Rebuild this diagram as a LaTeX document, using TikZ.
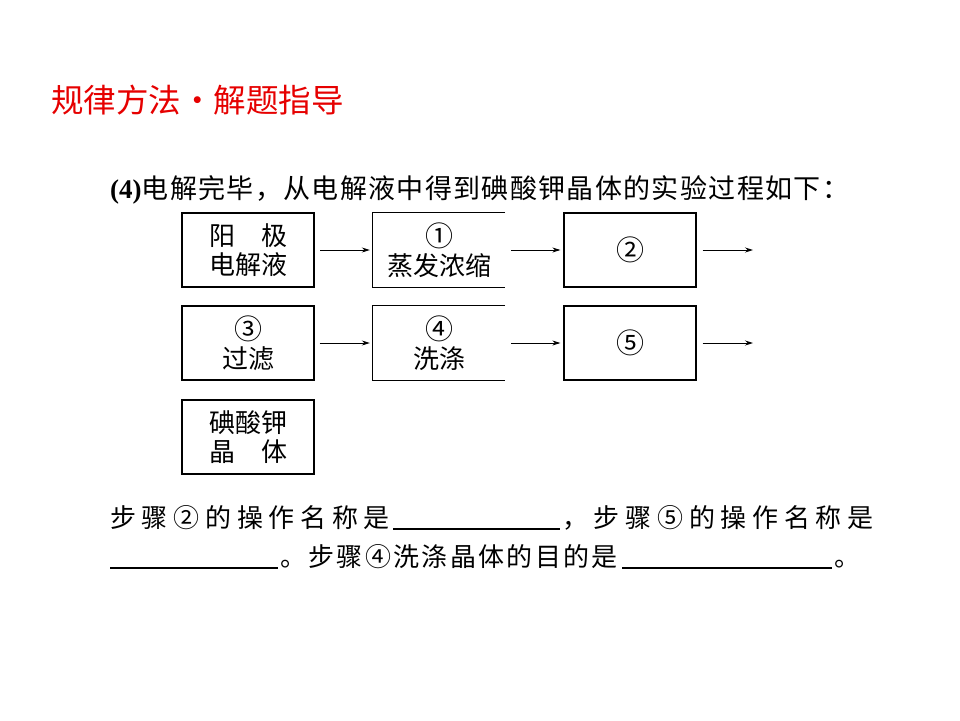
\documentclass[tikz,border=0pt]{standalone}
\usepackage{fontspec}
\setmainfont{Liberation Serif}
\newfontfamily\cjk{Noto Sans CJK SC}
\newfontfamily\cjkintro[LetterSpace=5]{Noto Sans CJK SC}
\newfontfamily\cjkwide[LetterSpace=22]{Noto Sans CJK SC}
\newfontfamily\cjkmid[LetterSpace=9]{Noto Sans CJK SC}
\usetikzlibrary{arrows.meta}
\definecolor{titlered}{RGB}{230,0,0}
\newcommand{\cnum}[1]{{\fontsize{28}{29}\selectfont #1}}
\begin{document}
\begin{tikzpicture}[x=1pt,y=-1pt,
  stepbox/.style={minimum width=132pt,minimum height=74pt,inner sep=0pt,
    align=center,font=\cjk\fontsize{26}{29}\selectfont},
  framed/.style={draw,line width=1.2pt},
  flow/.style={line width=0.9pt,-{Stealth[length=8pt,width=5pt]}},
  blank/.style={line width=1.4pt},
  body/.style={inner sep=0pt,anchor=base west}]
\useasboundingbox (0,0) rectangle (960,720);
\fill[white] (0,0) rectangle (960,720);

\node[inner sep=0pt,anchor=west,text=titlered,font=\cjk\fontsize{32.5}{32.5}\selectfont] (title) at (51,100) {规律方法・解题指导};

\node[body,font=\fontsize{27}{27}\selectfont] (intro) at (110,198)
  {\textbf{(4)}\cjkintro 电解完毕，从电解液中得到碘酸钾晶体的实验过程如下：};

% row 1
\node[stepbox,framed,line width=2pt] (b1) at (248,250) {阳\hspace{1em}极\\电解液};
\node[stepbox] (b2) at (439,250) {\cnum{①}\\蒸发浓缩};
\draw[line width=1.2pt] (b2.north east) -- (b2.north west) -- (b2.south west) -- (b2.south east);
\node[stepbox,framed] (b3) at (630,250) {\cnum{②}};
\coordinate (e1) at (753,250);
\draw[flow] ([xshift=5pt]b1.east) -- ([xshift=-3pt]b2.west);
\draw[flow] ([xshift=6pt]b2.east) -- ([xshift=-3pt]b3.west);
\draw[flow] ([xshift=6pt]b3.east) -- (e1);

% row 2
\node[stepbox,framed] (c1) at (248,343) {\cnum{③}\\过滤};
\node[stepbox] (c2) at (439,343) {\cnum{④}\\洗涤};
\draw[line width=1.2pt] (c2.north east) -- (c2.north west) -- (c2.south west) -- (c2.south east);
\node[stepbox,framed] (c3) at (630,343) {\cnum{⑤}};
\coordinate (e2) at (753,343);
\draw[flow] ([xshift=5pt]c1.east) -- ([xshift=-3pt]c2.west);
\draw[flow] ([xshift=6pt]c2.east) -- ([xshift=-3pt]c3.west);
\draw[flow] ([xshift=6pt]c3.east) -- (e2);

% row 3
\node[stepbox,framed] (d1) at (248,437) {碘酸钾\\晶\hspace{1em}体};

% question lines
\node[body,font=\cjkwide\fontsize{26}{26}\selectfont] (q1) at (110,527) {步骤②的操作名称是};
\coordinate (u1a) at (393,529); \coordinate (u1b) at (560,529);
\draw[blank] (u1a) -- (u1b);
\node[body,font=\cjkwide\fontsize{26}{26}\selectfont] (q2) at (562,527) {，步骤⑤的操作名称是};

\coordinate (u2a) at (110,568); \coordinate (u2b) at (278,568);
\draw[blank] (u2a) -- (u2b);
\node[body,font=\cjkmid\fontsize{26}{26}\selectfont] (q3) at (280,566) {。步骤④洗涤晶体的目的是};
\coordinate (u3a) at (622,568); \coordinate (u3b) at (832,568);
\draw[blank] (u3a) -- (u3b);
\node[body,font=\cjk\fontsize{26}{26}\selectfont] (q4) at (834,566) {。};
\end{tikzpicture}
\end{document}
